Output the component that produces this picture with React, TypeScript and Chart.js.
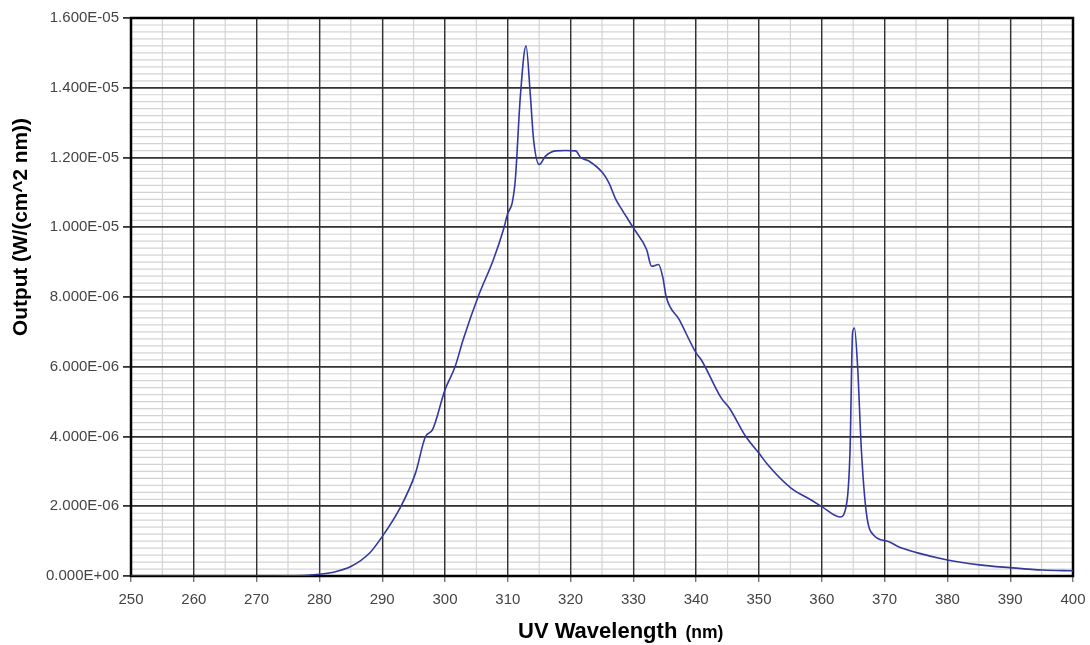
import { useEffect, useRef } from 'react';
import { Chart, registerables } from 'chart.js';

Chart.register(...registerables);

const wavelengths = [
  250, 260, 270, 275, 278, 280, 282, 285, 288, 290, 292.7, 295.3, 296.9, 298, 300, 301.6, 302.9,
  305.3, 307.7, 309.3, 310, 310.7, 311.2, 312, 312.9, 313.6, 314.1, 315, 316, 317.6, 319.2, 320.8,
  321.6, 322.9, 325.1, 326.1, 327.2, 328.2, 330, 332.1, 332.9, 334.0, 334.7, 335.2, 337.3, 340,
  340.8, 344, 345.3, 347.9, 350, 351.4, 355.1, 358.3, 360, 362.9, 364, 364.5, 364.9, 365.2, 365.7,
  366.3, 367.1, 368.2, 370.6, 372.2, 375.1, 380, 385.1, 390, 395.2, 400,
];

const outputs = [
  0, 0, 0, 0.005e-6, 0.02e-6, 0.05e-6, 0.1e-6, 0.27e-6, 0.66e-6, 1.13e-6, 1.9e-6, 2.95e-6, 4.0e-6,
  4.19e-6, 5.34e-6, 6.0e-6, 6.78e-6, 8.02e-6, 9.07e-6, 9.93e-6, 10.4e-6, 10.7e-6, 11.37e-6,
  13.76e-6, 15.2e-6, 13.76e-6, 12.52e-6, 11.8e-6, 12.04e-6, 12.19e-6, 12.2e-6, 12.19e-6, 12.0e-6,
  11.9e-6, 11.56e-6, 11.27e-6, 10.8e-6, 10.5e-6, 9.98e-6, 9.36e-6, 8.88e-6, 8.93e-6, 8.55e-6,
  8.02e-6, 7.35e-6, 6.39e-6, 6.2e-6, 5.1e-6, 4.81e-6, 4.0e-6, 3.52e-6, 3.19e-6, 2.52e-6, 2.18e-6,
  1.99e-6, 1.69e-6, 2.13e-6, 3.62e-6, 6.97e-6, 7.11e-6, 6.01e-6, 3.62e-6, 1.8e-6, 1.18e-6,
  0.99e-6, 0.84e-6, 0.67e-6, 0.46e-6, 0.32e-6, 0.24e-6, 0.17e-6, 0.15e-6,
];

const xTickLabels = [
  '250', '260', '270', '280', '290', '300', '310', '320', '330', '340', '350', '360', '370', '380',
  '390', '400',
];

const yTickLabels = [
  '0.000E+00', '2.000E-06', '4.000E-06', '6.000E-06', '8.000E-06', '1.000E-05', '1.200E-05',
  '1.400E-05', '1.600E-05',
];

const xTitle = 'UV Wavelength';
const xTitleUnit = '(nm)';
const yTitle = 'Output (W/(cm^2 nm))';

const X_MIN = 250;
const X_MAX = 400;
const X_MAJOR = 10;
const X_MINOR = 5;
const Y_MIN = 0;
const Y_MAX = 1.6e-5;
const Y_MAJOR = 2e-6;
const Y_MINOR = 2e-7;

const MAJOR_COLOR = '#333333';
const MINOR_COLOR = '#d4d4d4';
const LABEL_FONT = 'Arial, "Liberation Sans", Helvetica, sans-serif';

const gridPlugin = {
  id: 'minorGridAndFrame',
  beforeDraw(chart: any) {
    const { ctx, chartArea } = chart;
    const xs = chart.scales.x;
    const ys = chart.scales.y;
    ctx.save();
    ctx.strokeStyle = MINOR_COLOR;
    ctx.lineWidth = 1.2;
    const nx = Math.round((X_MAX - X_MIN) / X_MINOR);
    for (let i = 1; i < nx; i++) {
      const px = xs.getPixelForValue(X_MIN + i * X_MINOR);
      ctx.beginPath();
      ctx.moveTo(px, chartArea.top);
      ctx.lineTo(px, chartArea.bottom);
      ctx.stroke();
    }
    const ny = Math.round((Y_MAX - Y_MIN) / Y_MINOR);
    for (let i = 1; i < ny; i++) {
      const py = ys.getPixelForValue(Y_MIN + i * Y_MINOR);
      ctx.beginPath();
      ctx.moveTo(chartArea.left, py);
      ctx.lineTo(chartArea.right, py);
      ctx.stroke();
    }
    ctx.restore();
  },
  beforeDatasetsDraw(chart: any) {
    const { ctx, chartArea } = chart;
    ctx.save();
    ctx.strokeStyle = '#000';
    ctx.lineWidth = 2.5;
    ctx.strokeRect(chartArea.left, chartArea.top, chartArea.right - chartArea.left, chartArea.bottom - chartArea.top);
    ctx.restore();
  },
  afterDraw(chart: any) {
    const { ctx } = chart;
    ctx.save();
    ctx.fillStyle = '#000';
    ctx.textBaseline = 'alphabetic';
    ctx.textAlign = 'left';
    ctx.font = `bold 22px ${LABEL_FONT}`;
    const x0 = 518;
    const baseY = 638;
    ctx.fillText(xTitle, x0, baseY);
    const w = ctx.measureText(xTitle + ' ').width;
    ctx.font = `bold 17.5px ${LABEL_FONT}`;
    ctx.fillText(xTitleUnit, x0 + w + 2, baseY);

    ctx.translate(27, 227);
    ctx.rotate(-Math.PI / 2);
    ctx.textAlign = 'center';
    ctx.font = `bold 20.8px ${LABEL_FONT}`;
    ctx.fillText(yTitle, 0, 0);
    ctx.restore();
  },
};

export default function App() {
  const canvasRef = useRef<HTMLCanvasElement | null>(null);

  useEffect(() => {
    if (!canvasRef.current) return;
    const points = wavelengths.map((w, i) => ({ x: w, y: outputs[i] }));
    const chart = new Chart(canvasRef.current, {
      type: 'line',
      data: {
        datasets: [
          {
            data: points,
            borderColor: '#3338a0',
            borderWidth: 1.6,
            pointRadius: 0,
            fill: false,
            cubicInterpolationMode: 'monotone',
          },
        ],
      },
      options: {
        animation: false,
        responsive: false,
        maintainAspectRatio: false,
        layout: { padding: { left: 0, top: 18, right: 17, bottom: 0 } },
        plugins: { legend: { display: false }, tooltip: { enabled: false } },
        scales: {
          x: {
            type: 'linear',
            min: X_MIN,
            max: X_MAX,
            afterFit(scale: any) {
              scale.height = 69;
              scale.paddingLeft = 0;
              scale.paddingRight = 0;
            },
            border: { display: false },
            grid: {
              color: MAJOR_COLOR,
              lineWidth: 1.4,
              tickColor: '#777',
              tickLength: 6,
              drawTicks: true,
            },
            ticks: {
              stepSize: X_MAJOR,
              autoSkip: false,
              maxRotation: 0,
              padding: 9,
              color: '#444',
              font: { family: LABEL_FONT, size: 15 },
              callback: (v: any) => xTickLabels[Math.round((Number(v) - X_MIN) / X_MAJOR)],
            },
          },
          y: {
            type: 'linear',
            min: Y_MIN,
            max: Y_MAX,
            afterFit(scale: any) {
              scale.width = 131;
              scale.paddingTop = 0;
              scale.paddingBottom = 0;
            },
            border: { display: false },
            grid: {
              color: MAJOR_COLOR,
              lineWidth: 1.8,
              tickColor: '#333',
              tickLength: 8,
              drawTicks: true,
            },
            ticks: {
              stepSize: Y_MAJOR,
              autoSkip: false,
              padding: 4,
              color: '#444',
              font: { family: LABEL_FONT, size: 15 },
              callback: (v: any) => yTickLabels[Math.round((Number(v) - Y_MIN) / Y_MAJOR)],
            },
          },
        },
      },
      plugins: [gridPlugin],
    });
    return () => chart.destroy();
  }, []);

  return (
    <div style={{ position: 'absolute', left: 0, top: 0, width: 1090, height: 645, background: '#fff' }}>
      <canvas ref={canvasRef} width={1090} height={645} style={{ width: 1090, height: 645 }} />
    </div>
  );
}
